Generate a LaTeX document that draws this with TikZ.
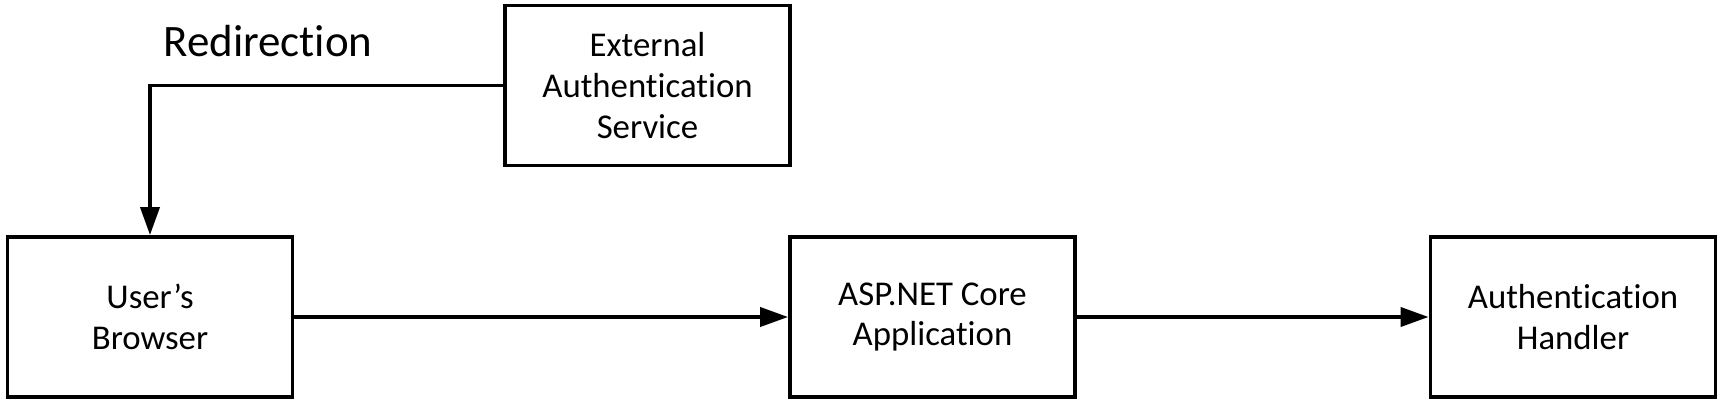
\documentclass[tikz,border=0pt]{standalone}
\usepackage{fontspec}
\setmainfont{Carlito}[Ligatures=NoCommon]
\usepackage{tikz}
\usetikzlibrary{arrows.meta}

\begin{document}
\begin{tikzpicture}[x=0.02cm, y=-0.02cm,
  every node/.style = {inner sep=0pt},
  block/.style = {shape=rectangle, draw, line width=2.2pt,
    align=center, minimum width=5.7cm, minimum height=3.2cm,
    font=\fontsize{19.8pt}{23.3pt}\selectfont},
  flow/.style = {line width=2.2pt,
    -{Triangle[length=0.56cm, width=0.38cm]}}]
  \useasboundingbox (0,0) rectangle (1725,405);
  \node[block] (extauth) at (647.5,85.5) {External\\Authentication\\Service};
  \node[block] (browser) at (150,317) {User’s\\Browser};
  \node[block] (aspnet) at (932.5,317) {ASP.NET Core\\Application};
  \node[block] (handler) at (1573,317) {Authentication\\Handler};
  \node[anchor=base west, font=\fontsize{25.6pt}{30pt}\selectfont]
    (redirect) at (163,57) {Redirection};
  \draw[flow] (extauth.west) -| (browser.north);
  \draw[flow] (browser) -- (aspnet);
  \draw[flow] (aspnet) -- (handler);
\end{tikzpicture}
\end{document}
